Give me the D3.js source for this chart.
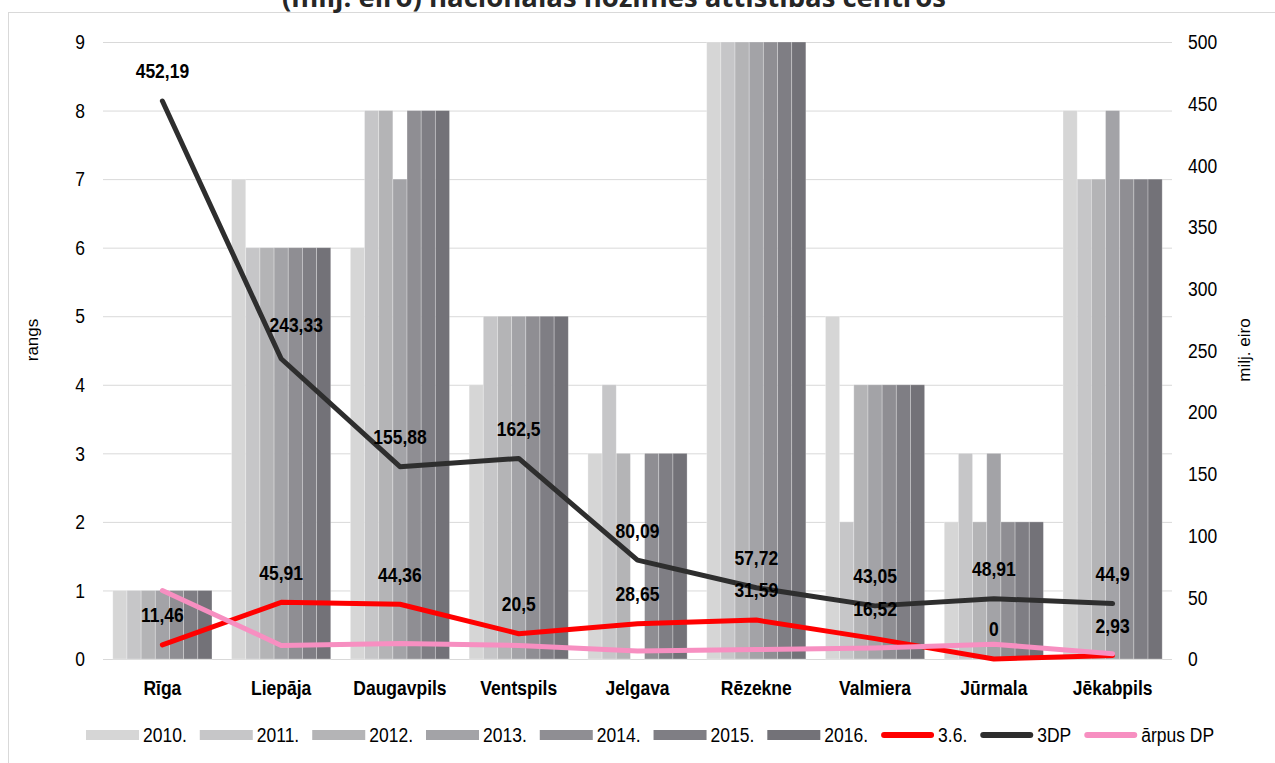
<!DOCTYPE html>
<html>
<head>
<meta charset="utf-8">
<script src="https://cdn.jsdelivr.net/npm/d3@7/dist/d3.min.js"></script>
<style>
  body { margin: 0; background: #fff; }
  svg text { font-family: "Liberation Sans", Arial, sans-serif; fill: #000; }
</style>
</head>
<body>
<div id="chart"></div>
<script>
(function() {

    // categories
    var cities = ["Rīga", "Liepāja", "Daugavpils", "Ventspils", "Jelgava", "Rēzekne", "Valmiera", "Jūrmala", "Jēkabpils"];
    var years = ["2010.", "2011.", "2012.", "2013.", "2014.", "2015.", "2016."];

    // rangs by year (one value per city)
    var rank2010 = [1, 7, 6, 4, 3, 9, 5, 2, 8];
    var rank2011 = [1, 6, 8, 5, 4, 9, 2, 3, 7];
    var rank2012 = [1, 6, 8, 5, 3, 9, 4, 2, 7];
    var rank2013 = [1, 6, 7, 5, 0, 9, 4, 3, 8];
    var rank2014 = [1, 6, 8, 5, 3, 9, 4, 2, 7];
    var rank2015 = [1, 6, 8, 5, 3, 9, 4, 2, 7];
    var rank2016 = [1, 6, 8, 5, 3, 9, 4, 2, 7];

    // milj. eiro
    var sp36 = [11.46, 45.91, 44.36, 20.5, 28.65, 31.59, 16.52, 0, 2.93];
    var dp3 = [452.19, 243.33, 155.88, 162.5, 80.09, 57.72, 43.05, 48.91, 44.9];
    var arpusDP = [55.5, 11, 12.5, 11, 6.5, 7.6, 9, 12, 4.3];

    var rankTicks = [0, 1, 2, 3, 4, 5, 6, 7, 8, 9];
    var moneyTicks = [0, 50, 100, 150, 200, 250, 300, 350, 400, 450, 500];

    var rankSeries = [rank2010, rank2011, rank2012, rank2013, rank2014, rank2015, rank2016];
    var barColors = ["#d6d6d6", "#c6c6c8", "#b4b4b6", "#a3a3a7", "#8f8e93", "#7f7e84", "#737278"];

    var lines = [
        { name: "3.6.", values: sp36, color: "#ff0000", labels: true },
        { name: "3DP", values: dp3, color: "#2e2e2e", labels: true },
        { name: "ārpus DP", values: arpusDP, color: "#f78fc1", labels: false }
    ];

    var w = 1275, h = 763;
    var left = 103, right = 1172, top = 42, bottom = 659;
    var S = 1.2;   // text in the source is stretched vertically
    var fs = 17.5;

    var svg = d3.select("#chart").append("svg")
        .attr("width", w)
        .attr("height", h);

    // chart border (top and left visible)
    svg.append("rect")
        .attr("x", 8.5).attr("y", 12.5)
        .attr("width", 1275).attr("height", 800)
        .style("fill", "none")
        .style("stroke", "#d9d9d9")
        .style("stroke-width", 1);

    // title, mostly cut off by the top edge as in the source
    svg.append("text")
        .attr("x", 614).attr("y", 7)
        .attr("text-anchor", "middle")
        .style("font-family", "'Open Sans', sans-serif")
        .style("font-weight", 700)
        .style("font-size", "27.5px")
        .style("fill", "#262626")
        .text("(milj. eiro) nacionālas nozīmes attīstības centros");

    var x0 = d3.scaleBand().domain(cities).range([left, right])
        .paddingInner(0.165).paddingOuter(0.0825);
    var x1 = d3.scaleBand().domain(years).range([0, x0.bandwidth()]);
    var yR = d3.scaleLinear().domain([0, 9]).range([bottom, top]);
    var yM = d3.scaleLinear().domain([0, 500]).range([bottom, top]);

    // gridlines
    svg.append("g")
        .attr("transform", "translate(" + left + ",0)")
        .call(d3.axisLeft(yR).tickValues(rankTicks).tickSize(-(right - left)).tickFormat(""))
        .call(function(g) { g.select(".domain").remove(); })
        .selectAll("line")
        .style("stroke", "#d9d9d9")
        .style("stroke-width", 1);

    // bars
    var groups = svg.append("g").selectAll("g")
        .data(cities)
        .enter().append("g")
        .attr("transform", function(d) { return "translate(" + x0(d) + ",0)"; });

    groups.selectAll("rect")
        .data(function(c, ci) {
            return years.map(function(y, yi) { return { year: y, yi: yi, v: rankSeries[yi][ci] }; });
        })
        .enter().append("rect")
        .attr("x", function(d) { return x1(d.year); })
        .attr("width", x1.bandwidth())
        .attr("y", function(d) { return yR(d.v); })
        .attr("height", function(d) { return bottom - yR(d.v); })
        .style("fill", function(d) { return barColors[d.yi]; })
        .style("stroke", "rgba(255,255,255,0.35)")
        .style("stroke-width", 0.8);

    // lines
    var cx = function(i) { return x0(cities[i]) + x0.bandwidth() / 2; };
    var line = d3.line()
        .x(function(d, i) { return cx(i); })
        .y(function(d) { return yM(d); });

    svg.append("g").selectAll("path")
        .data(lines)
        .enter().append("path")
        .attr("d", function(d) { return line(d.values); })
        .style("fill", "none")
        .style("stroke", function(d) { return d.color; })
        .style("stroke-width", 5)
        .style("stroke-linejoin", "round")
        .style("stroke-linecap", "round");

    // data labels
    function fmt(v) { return String(v).replace(".", ","); }

    lines.filter(function(l) { return l.labels; }).forEach(function(l) {
        svg.append("g").selectAll("text")
            .data(l.values)
            .enter().append("text")
            .attr("transform", function(d, i) {
                var dx = (l.name === "3DP" && i === 1) ? 15 : 0;
                var dy = (l.name === "3DP" && i === 1) ? -34 : -30;
                return "translate(" + (cx(i) + dx) + "," + (yM(d) + dy) + ") scale(1," + S + ")";
            })
            .attr("dy", "0.35em")
            .attr("text-anchor", "middle")
            .style("font-size", fs + "px")
            .style("font-weight", 700)
            .text(fmt);
    });

    // left axis
    var axL = svg.append("g")
        .attr("transform", "translate(" + left + ",0)")
        .call(d3.axisLeft(yR).tickValues(rankTicks).tickSize(0).tickPadding(18));
    axL.select(".domain").remove();
    axL.selectAll("text")
        .attr("transform", "scale(1," + S + ")")
        .style("font-size", fs + "px")
        .style("font-family", "'Liberation Sans', Arial, sans-serif")
        .style("fill", "#000");

    // right axis
    var axR = svg.append("g")
        .attr("transform", "translate(" + right + ",0)")
        .call(d3.axisRight(yM).tickValues(moneyTicks).tickSize(0).tickPadding(16));
    axR.select(".domain").remove();
    axR.selectAll("text")
        .attr("transform", "scale(1," + S + ")")
        .style("font-size", fs + "px")
        .style("font-family", "'Liberation Sans', Arial, sans-serif")
        .style("fill", "#000");

    // axis titles
    svg.append("text")
        .attr("transform", "translate(38,340) rotate(-90)")
        .attr("text-anchor", "middle")
        .style("font-size", "17px")
        .text("rangs");

    svg.append("text")
        .attr("transform", "translate(1250,350) rotate(-90)")
        .attr("text-anchor", "middle")
        .style("font-size", "17px")
        .text("milj. eiro");

    // category labels
    svg.append("g").selectAll("text")
        .data(cities)
        .enter().append("text")
        .attr("transform", function(d) {
            return "translate(" + (x0(d) + x0.bandwidth() / 2) + ",688) scale(1," + S + ")";
        })
        .attr("dy", "0.35em")
        .attr("text-anchor", "middle")
        .style("font-size", fs + "px")
        .style("font-weight", 700)
        .text(function(d) { return d; });

    // legend
    var legendItems = years.map(function(y, i) { return { name: y, type: "bar", color: barColors[i] }; })
        .concat(lines.map(function(l) { return { name: l.name, type: "line", color: l.color }; }));

    var lg = svg.append("g");
    var lx = 86, ly = 735;
    legendItems.forEach(function(item) {
        var g = lg.append("g").attr("transform", "translate(" + lx + "," + ly + ")");
        if (item.type === "bar") {
            g.append("rect")
                .attr("x", 0).attr("y", -5)
                .attr("width", 53).attr("height", 10)
                .style("fill", item.color);
        } else {
            g.append("line")
                .attr("x1", 3).attr("x2", 50)
                .attr("y1", 0).attr("y2", 0)
                .style("stroke", item.color)
                .style("stroke-width", 6)
                .style("stroke-linecap", "round");
        }
        var t = g.append("text")
            .attr("transform", "translate(57,0) scale(1," + S + ")")
            .attr("dy", "0.35em")
            .style("font-size", fs + "px")
            .text(item.name);
        lx += 57 + t.node().getComputedTextLength() + 13;
    });

})();
</script>
</body>
</html>
